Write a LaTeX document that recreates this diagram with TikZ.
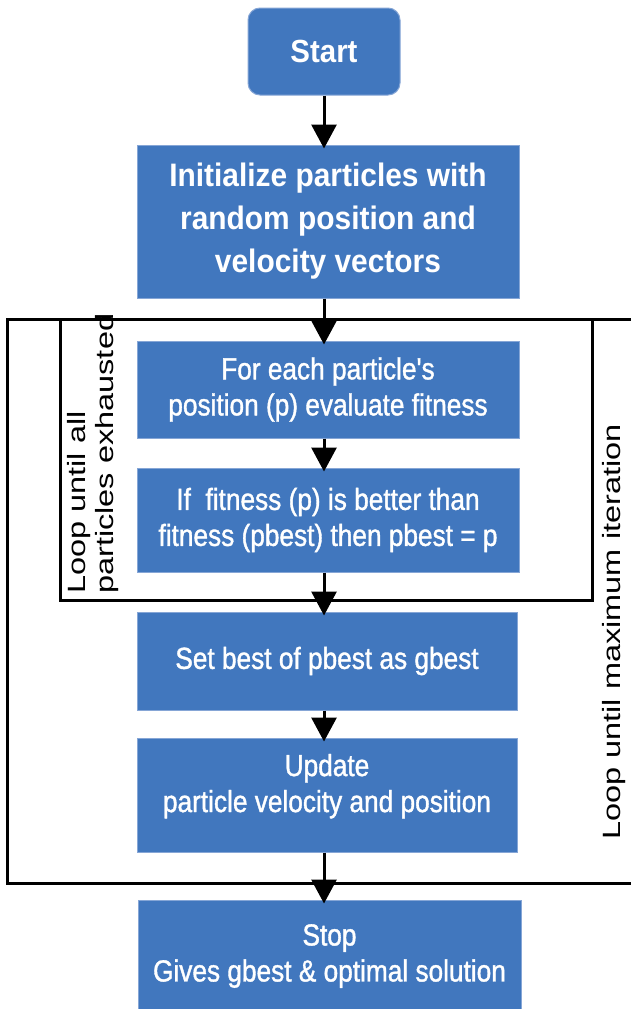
\documentclass[tikz,border=0pt]{standalone}
\usepackage{fontspec}
\setmainfont{Liberation Sans}[FakeStretch=0.92]
\newfontfamily\stepfont{Liberation Sans}[FakeStretch=0.86, FakeBold=1.2]
\newfontfamily\sidefont{Liberation Sans}[FakeStretch=1.3]
\usetikzlibrary{arrows.meta, positioning}
\definecolor{psoFill}{HTML}{4177BE}
\definecolor{psoEdge}{HTML}{86A6D6}
\tikzset{
  flow/.style = {
    >={Triangle[width=25pt, length=24pt]},
  },
  startbox/.style = {
    rectangle, rounded corners=12pt, draw=psoEdge, line width=1pt, fill=psoFill,
    minimum width=152pt, minimum height=87pt, align=center, inner sep=0pt,
    text=white, font=\fontsize{32}{38}\selectfont\bfseries,
  },
  initbox/.style = {
    rectangle, draw=psoEdge, line width=1pt, fill=psoFill,
    minimum width=382pt, minimum height=153pt, align=center, inner sep=0pt,
    text=white, font=\fontsize{32.5}{43}\selectfont\bfseries,
  },
  stepbox/.style = {
    rectangle, draw=psoEdge, line width=1pt, fill=psoFill,
    minimum width=382pt, minimum height=98pt, align=center, inner sep=0pt,
    text=white, font=\stepfont\fontsize{30.5}{36}\selectfont,
  },
  loopline/.style = {draw=black, line width=3pt},
  looptext/.style = {
    rotate=90, inner sep=0pt, align=left,
    font=\sidefont\fontsize{25}{28}\selectfont,
  },
  arr/.style = {->, line width=3pt, draw=black, shorten >=-4pt},
}
\begin{document}
\begin{tikzpicture}[flow, x=1pt, y=-1pt]
\useasboundingbox (0,0) rectangle (630,1009);
\fill[white] (0,0) rectangle (630,1009);

% the two loops
\draw[loopline] (7,319) rectangle (634,883);
\draw[loopline] (60,319) rectangle (592,600);

\node[startbox] (start) at (324,51.5) {Start};
\node[initbox] (init) at (328,221.5)
  {Initialize particles with\\random position and\\velocity vectors};
\node[stepbox, minimum height=97pt] (eval) at (328,389.5)
  {For each particle's\\position (p) evaluate fitness};
\node[stepbox, minimum height=104pt] (pbest) at (328,520)
  {If~ fitness (p) is better than\\fitness (pbest) then pbest = p};
\node[stepbox, minimum width=380pt] (gbest) at (327,661)
  {Set best of pbest as gbest};
\node[stepbox, minimum width=380pt, minimum height=114pt, text depth=24pt] (update) at (327,795)
  {Update\\particle velocity and position};
\node[stepbox, minimum width=383pt, minimum height=112pt] (stop) at (329.5,956)
  {Stop\\Gives gbest \& optimal solution};

\node[looptext, anchor=north west] (inner) at (67,594)
  {Loop until all\\particles exhausted};
\node[looptext, anchor=base] (outer) at (620,632)
  {Loop until maximum iteration};

\draw[arr] (start.south) -- (start.south |- init.north);
\draw[arr] (start.south |- init.south) -- (start.south |- eval.north);
\draw[arr] (start.south |- eval.south) -- (start.south |- pbest.north);
\draw[arr] (start.south |- pbest.south) -- (start.south |- gbest.north);
\draw[arr] (start.south |- gbest.south) -- (start.south |- update.north);
\draw[arr] (start.south |- update.south) -- (start.south |- stop.north);

\end{tikzpicture}
\end{document}
